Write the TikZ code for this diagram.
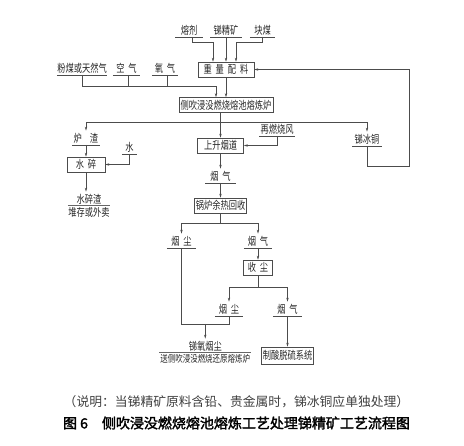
\documentclass[tikz,border=0pt]{standalone}
\usepackage{fontspec}
\newfontfamily\cjk[FakeStretch=0.75]{Noto Sans CJK SC}
\newfontfamily\cjkn{Noto Sans CJK SC}
\newfontfamily\cjkb[FakeBold=2]{Noto Sans CJK SC}
\usetikzlibrary{arrows.meta}
\newcommand{\kg}{\hspace{4pt}}

\begin{document}
\begin{tikzpicture}[x=1pt,y=-1pt]
\tikzstyle{every node}=[font=\cjk\fontsize{11}{13}\selectfont, text=black!85]
\tikzstyle{lab}=[anchor=south, inner xsep=0pt, inner ysep=1.5pt, text height=10pt, text depth=1pt]
\tikzstyle{box}=[draw=black!70, line width=0.6pt, minimum height=15pt, inner xsep=1.5pt, inner ysep=0pt, text height=10pt, text depth=1.5pt]
\tikzstyle{line}=[draw=black!70, line width=0.6pt]
\tikzstyle{arr}=[line, -{Stealth[length=4pt,width=2.4pt]}]
\tikzstyle{dbl}=[draw=black!60, line width=0.6pt, double, double distance=0.8pt]
\useasboundingbox (0,0) rectangle (464,446);

% raw materials
\node[lab, minimum width=27pt] (rj) at (189,37) {熔剂};
\node[lab, minimum width=31pt] (jk) at (226,37) {锑精矿};
\node[lab, minimum width=25pt] (km) at (262.5,37) {块煤};
\node[lab, minimum width=50pt] (pm) at (82,75) {粉煤或天然气};
\node[lab, minimum width=27pt] (kq) at (126.5,75) {空\kg 气};
\node[lab, minimum width=26pt] (yq) at (165,75) {氧\kg 气};
\node[box, minimum width=56pt] (pl) at (226,69.5) {重\kg 量\kg 配\kg 料};
\node[box, minimum width=86pt] (lu) at (226,105) {侧吹浸没燃烧熔池熔炼炉};

% furnace products
\node[lab, minimum width=27pt] (lz) at (86,145) {炉\hspace{8pt}渣};
\node[lab, minimum width=29pt] (bcl) at (367,146) {锑冰铜};
\node[box, minimum width=46pt] (sd) at (220.5,145.5) {上升烟道};
\node[lab, minimum width=35pt] (rf) at (277,136) {再燃烧风};
\node[lab, minimum width=15pt] (sui) at (129.5,154) {水};
\node[box, minimum width=38pt] (sc) at (86,164.5) {水\kg 碎};
\node[lab, minimum width=42pt] (szz) at (89,206) {水碎渣};
\node[anchor=north, inner sep=1pt] (dc) at (szz.south) {堆存或外卖};

% flue gas
\node[lab, minimum width=30pt] (yq1) at (220.5,183) {烟\kg 气};
\node[box, minimum width=48pt] (gl) at (220.5,205.5) {锅炉余热回收};
\node[lab, minimum width=29pt] (yc1) at (181.5,248) {烟\kg 尘};
\node[lab, minimum width=28pt] (yq2) at (258,248) {烟\kg 气};
\node[box, minimum width=29pt] (sc2) at (258,267.5) {收\kg 尘};
\node[lab, minimum width=28pt] (yc2) at (229,316) {烟\kg 尘};
\node[lab, minimum width=29pt] (yq3) at (287.5,316) {烟\kg 气};
\node[lab, minimum width=92pt] (ty) at (205.25,353) {锑氧烟尘};
\node[anchor=north, inner sep=1pt, font=\cjk\fontsize{10}{12}\selectfont] (fh) at (ty.south) {送侧吹浸没燃烧还原熔炼炉};
\node[box, minimum width=50pt, minimum height=17pt] (zs) at (287.5,355.5) {制酸脱硫系统};

% note and caption
\node[font=\cjkn\fontsize{12.8}{15}\selectfont, text=black!75] (sm) at (236.5,402) {（说明：当锑精矿原料含铅、贵金属时，锑冰铜应单独处理）};
\node[font=\cjkb\fontsize{14}{16}\selectfont, text=black] (tt) at (236.5,423) {图 6\quad 侧吹浸没燃烧熔池熔炼工艺处理锑精矿工艺流程图};

% underlines
\foreach \n in {rj,jk,km,pm,kq,yq,lz,bcl,rf,sui,yq1,yc1,yq2,yc2,yq3}
  \draw[line] (\n.south west) -- (\n.south east);
\foreach \n in {szz,ty}
  \draw[dbl] (\n.south west) -- (\n.south east);

% connectors
\draw[arr] ([xshift=3pt]rj.south) -- ++(0,5) -| ([xshift=-13pt]pl.north);
\draw[arr] (jk.south) -- (pl.north);
\draw[arr] (km.south) -- ++(0,5) -| ([xshift=10pt]pl.north);
\draw[arr] (pm.south) -- ++(0,11) -| ([xshift=-10pt]lu.north);
\draw[line] ([xshift=1.5pt]kq.south) -- ++(0,11);
\draw[line] ([xshift=2pt]yq.south) -- ++(0,11);
\draw[arr] (pl.south) -- (lu.north);

\draw[arr] (sd.north |- lu.south) -- (sd.north);
\path (sd.north |- lu.south) ++(0,9.5) coordinate (fs);
\draw[arr] (fs) -| (lz.north);
\draw[arr] (fs) -| (bcl.north);
\draw[arr] (bcl.south) -- ++(0,20) -- ++(42,0) |- (pl.east);
\draw[arr] (rf.south) |- (sd.east);
\draw[arr] (sui.south) |- (sc.east);
\draw[arr] (lz.south) -- (sc.north);
\draw[arr] (sc.south) -- (sc.south |- szz.north);

\draw[arr] (sd.south) -- (yq1.north);
\draw[arr] (yq1.south) -- (gl.north);
\draw[line] (gl.south) -- ++(0,10.5) coordinate (gs);
\draw[arr] (gs) -| (yc1.north);
\draw[arr] (gs) -| (yq2.north);
\draw[arr] (yq2.south) -- (sc2.north);
\draw[line] (sc2.south) -- ++(0,12) coordinate (ss);
\draw[arr] (ss) -| (yc2.north);
\draw[arr] (ss) -| (yq3.north);
\path (yc1.south) ++(0,76) coordinate (jn);
\draw[line] (yc1.south) -- (jn) -| (yc2.south);
\draw[arr] (jn -| ty.north) -- (ty.north);
\draw[arr] (yq3.south) -- (zs.north);
\end{tikzpicture}
\end{document}
